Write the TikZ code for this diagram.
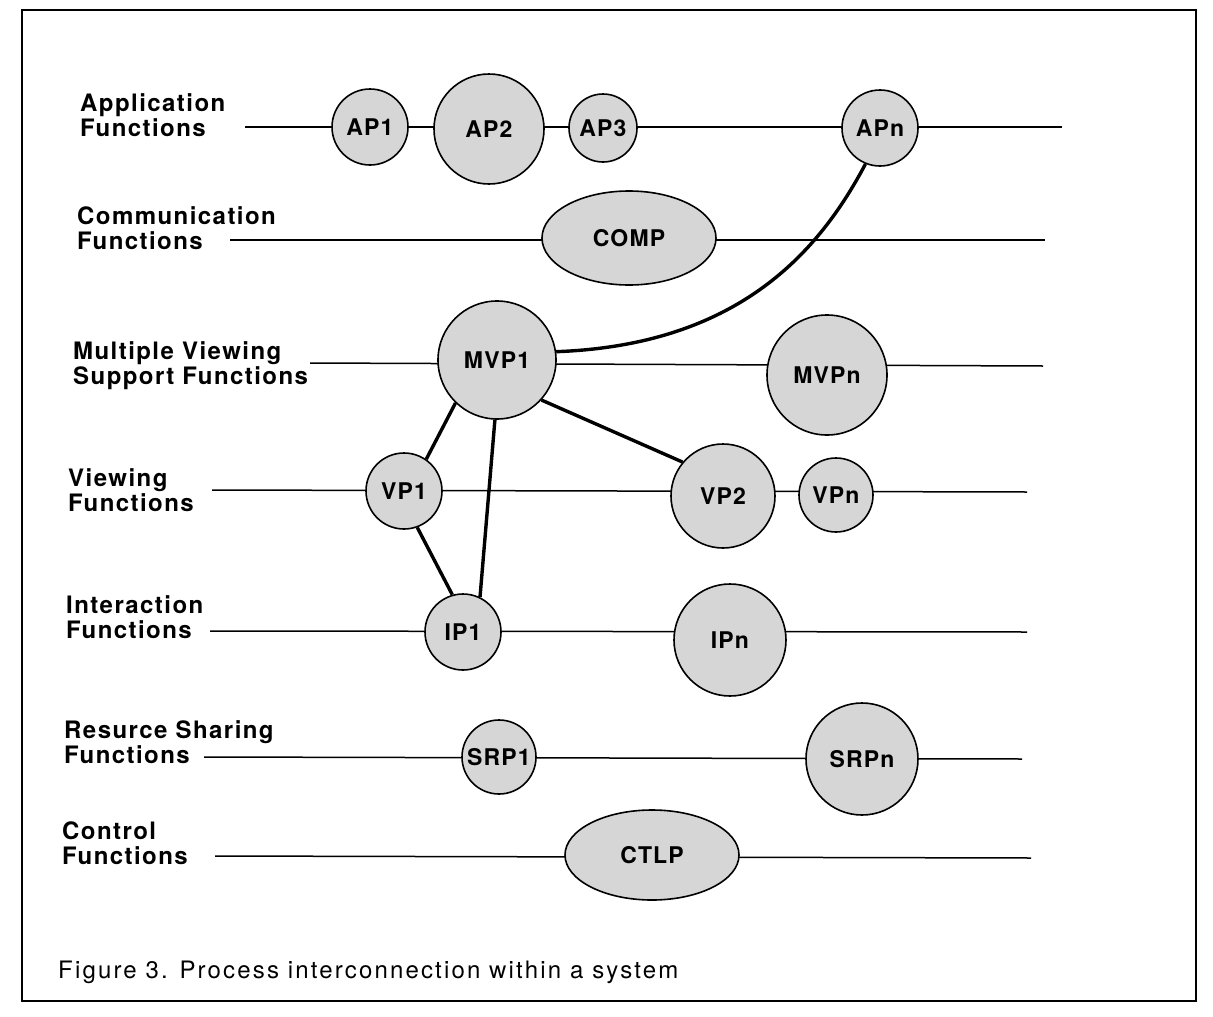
\documentclass[tikz,border=0pt]{standalone}
\usepackage{fontspec}
\setmainfont{TeX Gyre Heros}
\usepackage{tikz}
\usetikzlibrary{shapes,positioning,calc}

\begin{document}
\begin{tikzpicture}[x=1pt,y=-1pt,
    proc/.style={circle,draw,line width=1.6pt,fill=black!16,inner sep=0pt,
        font=\fontsize{23}{25}\selectfont\bfseries\addfontfeature{LetterSpace=5}},
    oval/.style={proc,ellipse,minimum width=174pt,minimum height=94pt},
    rowlabel/.style={align=left,anchor=west,inner sep=0pt,
        font=\fontsize{24}{25}\selectfont\bfseries\addfontfeature{LetterSpace=6}},
    rowline/.style={line width=1.5pt},
    link/.style={line width=3.4pt}]
    \useasboundingbox (0,0) rectangle (1213,1017);
    \draw[line width=1.8pt] (22,10) rectangle (1196,1001);

    % the seven levels
    \node[rowlabel] (lapp) at (80,115) {Application\\Functions};
    \node[rowlabel] (lcom) at (77,228) {Communication\\Functions};
    \node[rowlabel] (lmvs) at (73,366) {Multiple Viewing\\Support Functions};
    \node[rowlabel] (lview) at (68,490) {Viewing\\Functions};
    \node[rowlabel] (linter) at (66,617) {Interaction\\Functions};
    \node[rowlabel] (lres) at (64,742) {Resurce Sharing\\Functions};
    \node[rowlabel] (lctl) at (62,843) {Control\\Functions};

    \coordinate (appL) at (245,127);  \coordinate (appR) at (1062,127);
    \coordinate (comL) at (230,240);  \coordinate (comR) at (1045,240);
    \coordinate (mvsL) at (310,363);  \coordinate (mvsR) at (1043,366);
    \coordinate (viewL) at (212,490); \coordinate (viewR) at (1027,492);
    \coordinate (intL) at (210,631);  \coordinate (intR) at (1027,632);
    \coordinate (resL) at (204,757);  \coordinate (resR) at (1022,759);
    \coordinate (ctlL) at (215,856);  \coordinate (ctlR) at (1031,858);
    \foreach \r in {app,com,mvs,view,int,res,ctl}
        \draw[rowline] (\r L) -- (\r R);

    % processes
    \node[proc,minimum size=76pt] (AP1) at (370,127) {AP1};
    \node[proc,minimum size=110pt] (AP2) at (489,129) {AP2};
    \node[proc,minimum size=68pt] (AP3) at (603,128) {AP3};
    \node[proc,minimum size=76pt] (APn) at (880,128) {APn};
    \node[oval] (COMP) at (629,238) {COMP};
    \node[proc,minimum size=118pt] (MVP1) at (497,360) {MVP1};
    \node[proc,minimum size=120pt] (MVPn) at (827,375) {MVPn};
    \node[proc,minimum size=76pt] (VP1) at (404,491) {VP1};
    \node[proc,minimum size=104pt] (VP2) at (723,496) {VP2};
    \node[proc,minimum size=74pt] (VPn) at (836,495) {VPn};
    \node[proc,minimum size=76pt] (IP1) at (463,632) {IP1};
    \node[proc,minimum size=112pt] (IPn) at (730,640) {IPn};
    \node[proc,minimum size=74pt] (SRP1) at (499,757) {SRP1};
    \node[proc,minimum size=112pt] (SRPn) at (862,759) {SRPn};
    \node[oval,minimum height=90pt] (CTLP) at (652,855) {CTLP};

    % interconnections
    \draw[link] (APn.248) .. controls (820,250) and (740,345) .. (MVP1.8);
    \draw[link] (MVP1.226) -- (VP1.55);
    \draw[link] (MVP1.268) -- (IP1.64);
    \draw[link] (MVP1.318) -- (VP2.140);
    \draw[link] (VP1.290) -- (IP1.106);

    \node[anchor=west,inner sep=0pt,
        font=\fontsize{24}{26}\selectfont\addfontfeature{LetterSpace=9}] (cap) at (58,972)
        {Figure 3. Process interconnection within a system};
\end{tikzpicture}
\end{document}
